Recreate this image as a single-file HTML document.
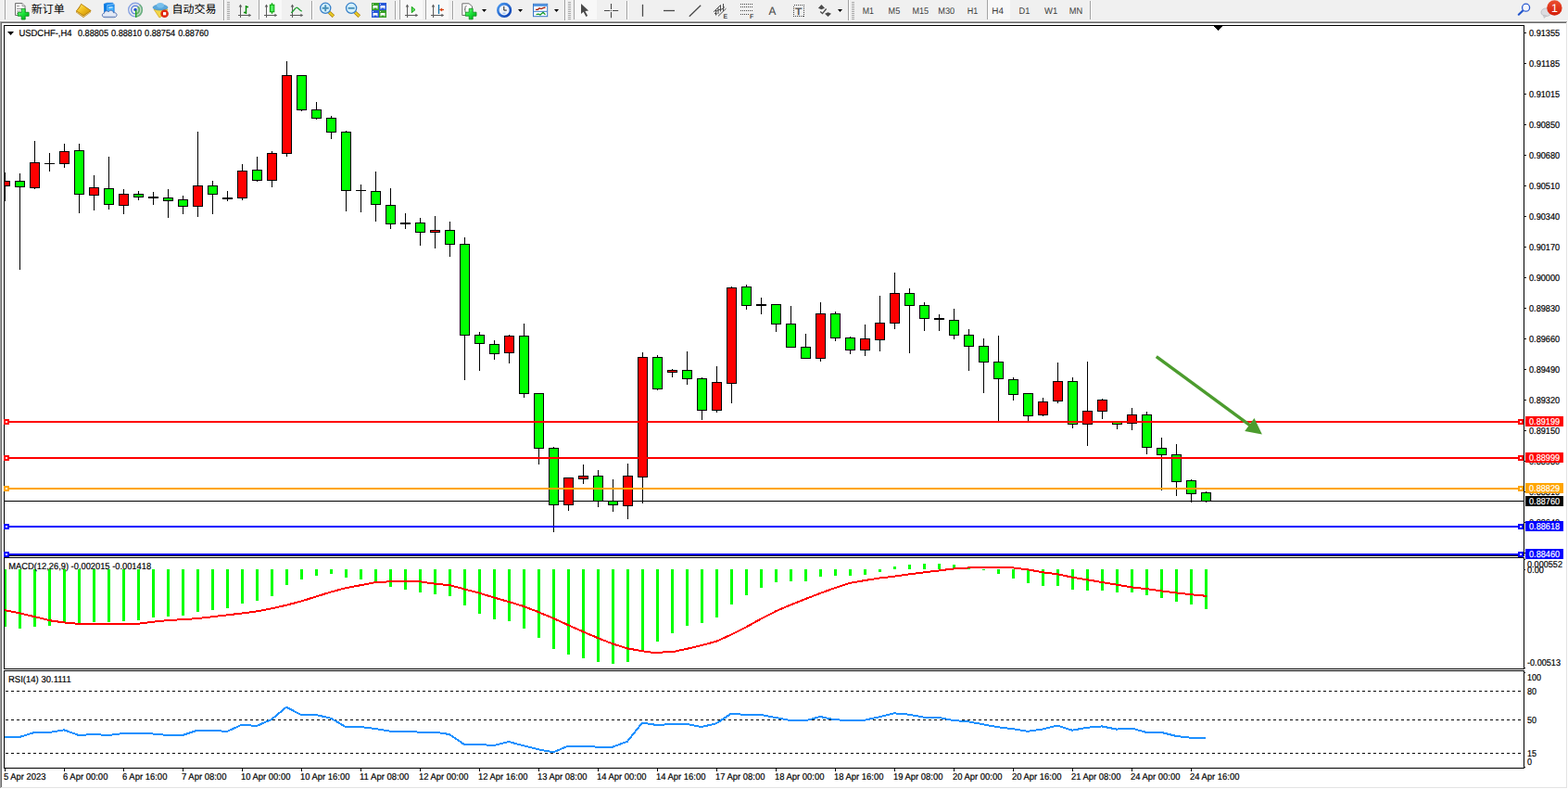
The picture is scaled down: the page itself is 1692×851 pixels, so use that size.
<!DOCTYPE html>
<html><head><meta charset="utf-8"><title>USDCHF H4</title>
<style>
html,body{margin:0;padding:0;}
body{width:1692px;height:851px;overflow:hidden;background:#f0f0f0;position:relative;font-family:"Liberation Sans",sans-serif;}
svg text{font-family:"Liberation Sans",sans-serif;}
</style></head><body>
<svg width="1692" height="851" viewBox="0 0 1692 851" shape-rendering="crispEdges" style="position:absolute;left:0;top:0"><rect x="0" y="22" width="1692" height="1" fill="#f7f7f7"/>
<rect x="0" y="23" width="1690" height="828" fill="#fff"/>
<rect x="0" y="23" width="1691" height="1" fill="#a0a0a0"/>
<rect x="0" y="23" width="1" height="827" fill="#a0a0a0"/>
<rect x="1" y="24" width="1689" height="1" fill="#696969"/>
<rect x="1" y="24" width="1" height="825" fill="#696969"/>
<rect x="1690" y="24" width="1" height="826" fill="#e3e3e3"/>
<rect x="1" y="849" width="1690" height="1" fill="#e3e3e3"/>
<rect x="1691" y="23" width="1" height="828" fill="#fff"/>
<rect x="0" y="850" width="1692" height="1" fill="#fff"/>
<rect x="4" y="27" width="1" height="573" fill="#000"/>
<rect x="1644" y="27" width="1" height="573" fill="#000"/>
<rect x="4" y="601" width="1" height="121" fill="#000"/>
<rect x="1644" y="601" width="1" height="121" fill="#000"/>
<rect x="4" y="723" width="1" height="106" fill="#000"/>
<rect x="1644" y="723" width="1" height="106" fill="#000"/>
<rect x="1645" y="603" width="1" height="1" fill="#000"/>
<rect x="1645" y="614" width="1" height="1" fill="#000"/>
<rect x="1645" y="720" width="1" height="1" fill="#000"/>
<rect x="1645" y="725" width="1" height="1" fill="#000"/>
<rect x="1645" y="827" width="1" height="1" fill="#000"/>
<rect x="4" y="27" width="1641" height="1" fill="#000"/>
<rect x="4" y="599" width="1641" height="1" fill="#000"/>
<rect x="4" y="601" width="1641" height="1" fill="#000"/>
<rect x="4" y="721" width="1641" height="1" fill="#000"/>
<rect x="4" y="723" width="1641" height="1" fill="#000"/>
<rect x="4" y="828" width="1641" height="1" fill="#000"/>
<rect x="5" y="540" width="1639" height="1" fill="#000"/>
<rect x="5" y="186" width="1" height="31" fill="#000"/>
<rect x="0" y="195" width="11" height="6" fill="#000"/>
<rect x="1" y="196" width="9" height="4" fill="#ff0000"/>
<rect x="21" y="187" width="1" height="104" fill="#000"/>
<rect x="16" y="195" width="11" height="7" fill="#000"/>
<rect x="17" y="196" width="9" height="5" fill="#00ff00"/>
<rect x="37" y="152" width="1" height="52" fill="#000"/>
<rect x="32" y="175" width="11" height="28" fill="#000"/>
<rect x="33" y="176" width="9" height="26" fill="#ff0000"/>
<rect x="53" y="165" width="1" height="20" fill="#000"/>
<rect x="48" y="176" width="11" height="1" fill="#000"/>
<rect x="69" y="155" width="1" height="26" fill="#000"/>
<rect x="64" y="163" width="11" height="14" fill="#000"/>
<rect x="65" y="164" width="9" height="12" fill="#ff0000"/>
<rect x="85" y="155" width="1" height="75" fill="#000"/>
<rect x="80" y="162" width="11" height="48" fill="#000"/>
<rect x="81" y="163" width="9" height="46" fill="#00ff00"/>
<rect x="101" y="189" width="1" height="38" fill="#000"/>
<rect x="96" y="202" width="11" height="9" fill="#000"/>
<rect x="97" y="203" width="9" height="7" fill="#ff0000"/>
<rect x="117" y="169" width="1" height="57" fill="#000"/>
<rect x="112" y="203" width="11" height="18" fill="#000"/>
<rect x="113" y="204" width="9" height="16" fill="#00ff00"/>
<rect x="133" y="204" width="1" height="27" fill="#000"/>
<rect x="128" y="209" width="11" height="13" fill="#000"/>
<rect x="129" y="210" width="9" height="11" fill="#ff0000"/>
<rect x="149" y="206" width="1" height="10" fill="#000"/>
<rect x="144" y="209" width="11" height="4" fill="#000"/>
<rect x="145" y="210" width="9" height="2" fill="#00ff00"/>
<rect x="165" y="207" width="1" height="14" fill="#000"/>
<rect x="160" y="212" width="11" height="2" fill="#000"/>
<rect x="181" y="204" width="1" height="31" fill="#000"/>
<rect x="176" y="213" width="11" height="4" fill="#000"/>
<rect x="177" y="214" width="9" height="2" fill="#00ff00"/>
<rect x="197" y="211" width="1" height="20" fill="#000"/>
<rect x="192" y="215" width="11" height="8" fill="#000"/>
<rect x="193" y="216" width="9" height="6" fill="#00ff00"/>
<rect x="213" y="142" width="1" height="92" fill="#000"/>
<rect x="208" y="200" width="11" height="23" fill="#000"/>
<rect x="209" y="201" width="9" height="21" fill="#ff0000"/>
<rect x="229" y="195" width="1" height="36" fill="#000"/>
<rect x="224" y="200" width="11" height="10" fill="#000"/>
<rect x="225" y="201" width="9" height="8" fill="#00ff00"/>
<rect x="245" y="206" width="1" height="11" fill="#000"/>
<rect x="240" y="213" width="11" height="2" fill="#000"/>
<rect x="261" y="177" width="1" height="39" fill="#000"/>
<rect x="256" y="184" width="11" height="30" fill="#000"/>
<rect x="257" y="185" width="9" height="28" fill="#ff0000"/>
<rect x="277" y="169" width="1" height="27" fill="#000"/>
<rect x="272" y="183" width="11" height="12" fill="#000"/>
<rect x="273" y="184" width="9" height="10" fill="#00ff00"/>
<rect x="293" y="163" width="1" height="39" fill="#000"/>
<rect x="288" y="165" width="11" height="30" fill="#000"/>
<rect x="289" y="166" width="9" height="28" fill="#ff0000"/>
<rect x="309" y="66" width="1" height="103" fill="#000"/>
<rect x="304" y="81" width="11" height="85" fill="#000"/>
<rect x="305" y="82" width="9" height="83" fill="#ff0000"/>
<rect x="325" y="81" width="1" height="39" fill="#000"/>
<rect x="320" y="81" width="11" height="38" fill="#000"/>
<rect x="321" y="82" width="9" height="36" fill="#00ff00"/>
<rect x="341" y="110" width="1" height="19" fill="#000"/>
<rect x="336" y="118" width="11" height="10" fill="#000"/>
<rect x="337" y="119" width="9" height="8" fill="#00ff00"/>
<rect x="357" y="125" width="1" height="25" fill="#000"/>
<rect x="352" y="127" width="11" height="16" fill="#000"/>
<rect x="353" y="128" width="9" height="14" fill="#00ff00"/>
<rect x="373" y="141" width="1" height="87" fill="#000"/>
<rect x="368" y="142" width="11" height="64" fill="#000"/>
<rect x="369" y="143" width="9" height="62" fill="#00ff00"/>
<rect x="389" y="199" width="1" height="30" fill="#000"/>
<rect x="384" y="205" width="11" height="1" fill="#000"/>
<rect x="405" y="185" width="1" height="54" fill="#000"/>
<rect x="400" y="206" width="11" height="15" fill="#000"/>
<rect x="401" y="207" width="9" height="13" fill="#00ff00"/>
<rect x="421" y="203" width="1" height="44" fill="#000"/>
<rect x="416" y="221" width="11" height="21" fill="#000"/>
<rect x="417" y="222" width="9" height="19" fill="#00ff00"/>
<rect x="437" y="230" width="1" height="17" fill="#000"/>
<rect x="432" y="240" width="11" height="2" fill="#000"/>
<rect x="453" y="235" width="1" height="30" fill="#000"/>
<rect x="448" y="240" width="11" height="11" fill="#000"/>
<rect x="449" y="241" width="9" height="9" fill="#00ff00"/>
<rect x="469" y="233" width="1" height="35" fill="#000"/>
<rect x="464" y="248" width="11" height="3" fill="#000"/>
<rect x="465" y="249" width="9" height="1" fill="#ff0000"/>
<rect x="485" y="239" width="1" height="38" fill="#000"/>
<rect x="480" y="248" width="11" height="16" fill="#000"/>
<rect x="481" y="249" width="9" height="14" fill="#00ff00"/>
<rect x="501" y="256" width="1" height="154" fill="#000"/>
<rect x="496" y="263" width="11" height="99" fill="#000"/>
<rect x="497" y="264" width="9" height="97" fill="#00ff00"/>
<rect x="517" y="358" width="1" height="42" fill="#000"/>
<rect x="512" y="361" width="11" height="10" fill="#000"/>
<rect x="513" y="362" width="9" height="8" fill="#00ff00"/>
<rect x="533" y="367" width="1" height="21" fill="#000"/>
<rect x="528" y="371" width="11" height="11" fill="#000"/>
<rect x="529" y="372" width="9" height="9" fill="#00ff00"/>
<rect x="549" y="361" width="1" height="31" fill="#000"/>
<rect x="544" y="362" width="11" height="19" fill="#000"/>
<rect x="545" y="363" width="9" height="17" fill="#ff0000"/>
<rect x="565" y="349" width="1" height="80" fill="#000"/>
<rect x="560" y="362" width="11" height="63" fill="#000"/>
<rect x="561" y="363" width="9" height="61" fill="#00ff00"/>
<rect x="581" y="425" width="1" height="76" fill="#000"/>
<rect x="576" y="424" width="11" height="60" fill="#000"/>
<rect x="577" y="425" width="9" height="58" fill="#00ff00"/>
<rect x="597" y="482" width="1" height="92" fill="#000"/>
<rect x="592" y="483" width="11" height="62" fill="#000"/>
<rect x="593" y="484" width="9" height="60" fill="#00ff00"/>
<rect x="613" y="516" width="1" height="35" fill="#000"/>
<rect x="608" y="515" width="11" height="30" fill="#000"/>
<rect x="609" y="516" width="9" height="28" fill="#ff0000"/>
<rect x="629" y="501" width="1" height="21" fill="#000"/>
<rect x="624" y="513" width="11" height="4" fill="#000"/>
<rect x="625" y="514" width="9" height="2" fill="#ff0000"/>
<rect x="645" y="507" width="1" height="40" fill="#000"/>
<rect x="640" y="513" width="11" height="28" fill="#000"/>
<rect x="641" y="514" width="9" height="26" fill="#00ff00"/>
<rect x="661" y="517" width="1" height="35" fill="#000"/>
<rect x="656" y="540" width="11" height="5" fill="#000"/>
<rect x="657" y="541" width="9" height="3" fill="#00ff00"/>
<rect x="677" y="500" width="1" height="60" fill="#000"/>
<rect x="672" y="513" width="11" height="33" fill="#000"/>
<rect x="673" y="514" width="9" height="31" fill="#ff0000"/>
<rect x="693" y="380" width="1" height="163" fill="#000"/>
<rect x="688" y="385" width="11" height="130" fill="#000"/>
<rect x="689" y="386" width="9" height="128" fill="#ff0000"/>
<rect x="709" y="383" width="1" height="38" fill="#000"/>
<rect x="704" y="385" width="11" height="35" fill="#000"/>
<rect x="705" y="386" width="9" height="33" fill="#00ff00"/>
<rect x="725" y="398" width="1" height="9" fill="#000"/>
<rect x="720" y="399" width="11" height="3" fill="#000"/>
<rect x="721" y="400" width="9" height="1" fill="#ff0000"/>
<rect x="741" y="379" width="1" height="36" fill="#000"/>
<rect x="736" y="399" width="11" height="10" fill="#000"/>
<rect x="737" y="400" width="9" height="8" fill="#00ff00"/>
<rect x="757" y="407" width="1" height="46" fill="#000"/>
<rect x="752" y="408" width="11" height="35" fill="#000"/>
<rect x="753" y="409" width="9" height="33" fill="#00ff00"/>
<rect x="773" y="395" width="1" height="50" fill="#000"/>
<rect x="768" y="412" width="11" height="31" fill="#000"/>
<rect x="769" y="413" width="9" height="29" fill="#ff0000"/>
<rect x="789" y="309" width="1" height="126" fill="#000"/>
<rect x="784" y="310" width="11" height="104" fill="#000"/>
<rect x="785" y="311" width="9" height="102" fill="#ff0000"/>
<rect x="805" y="307" width="1" height="27" fill="#000"/>
<rect x="800" y="309" width="11" height="21" fill="#000"/>
<rect x="801" y="310" width="9" height="19" fill="#00ff00"/>
<rect x="821" y="321" width="1" height="18" fill="#000"/>
<rect x="816" y="328" width="11" height="2" fill="#000"/>
<rect x="837" y="328" width="1" height="30" fill="#000"/>
<rect x="832" y="328" width="11" height="22" fill="#000"/>
<rect x="833" y="329" width="9" height="20" fill="#00ff00"/>
<rect x="853" y="330" width="1" height="44" fill="#000"/>
<rect x="848" y="349" width="11" height="26" fill="#000"/>
<rect x="849" y="350" width="9" height="24" fill="#00ff00"/>
<rect x="869" y="360" width="1" height="27" fill="#000"/>
<rect x="864" y="374" width="11" height="13" fill="#000"/>
<rect x="865" y="375" width="9" height="11" fill="#00ff00"/>
<rect x="885" y="326" width="1" height="64" fill="#000"/>
<rect x="880" y="338" width="11" height="49" fill="#000"/>
<rect x="881" y="339" width="9" height="47" fill="#ff0000"/>
<rect x="901" y="336" width="1" height="32" fill="#000"/>
<rect x="896" y="338" width="11" height="27" fill="#000"/>
<rect x="897" y="339" width="9" height="25" fill="#00ff00"/>
<rect x="917" y="363" width="1" height="19" fill="#000"/>
<rect x="912" y="364" width="11" height="14" fill="#000"/>
<rect x="913" y="365" width="9" height="12" fill="#00ff00"/>
<rect x="933" y="350" width="1" height="34" fill="#000"/>
<rect x="928" y="365" width="11" height="13" fill="#000"/>
<rect x="929" y="366" width="9" height="11" fill="#ff0000"/>
<rect x="949" y="319" width="1" height="60" fill="#000"/>
<rect x="944" y="348" width="11" height="19" fill="#000"/>
<rect x="945" y="349" width="9" height="17" fill="#ff0000"/>
<rect x="965" y="294" width="1" height="61" fill="#000"/>
<rect x="960" y="316" width="11" height="33" fill="#000"/>
<rect x="961" y="317" width="9" height="31" fill="#ff0000"/>
<rect x="981" y="311" width="1" height="70" fill="#000"/>
<rect x="976" y="316" width="11" height="14" fill="#000"/>
<rect x="977" y="317" width="9" height="12" fill="#00ff00"/>
<rect x="997" y="326" width="1" height="31" fill="#000"/>
<rect x="992" y="329" width="11" height="15" fill="#000"/>
<rect x="993" y="330" width="9" height="13" fill="#00ff00"/>
<rect x="1013" y="339" width="1" height="18" fill="#000"/>
<rect x="1008" y="343" width="11" height="2" fill="#000"/>
<rect x="1029" y="333" width="1" height="33" fill="#000"/>
<rect x="1024" y="345" width="11" height="17" fill="#000"/>
<rect x="1025" y="346" width="9" height="15" fill="#00ff00"/>
<rect x="1045" y="355" width="1" height="45" fill="#000"/>
<rect x="1040" y="361" width="11" height="13" fill="#000"/>
<rect x="1041" y="362" width="9" height="11" fill="#00ff00"/>
<rect x="1061" y="365" width="1" height="59" fill="#000"/>
<rect x="1056" y="373" width="11" height="18" fill="#000"/>
<rect x="1057" y="374" width="9" height="16" fill="#00ff00"/>
<rect x="1077" y="362" width="1" height="92" fill="#000"/>
<rect x="1072" y="390" width="11" height="19" fill="#000"/>
<rect x="1073" y="391" width="9" height="17" fill="#00ff00"/>
<rect x="1093" y="407" width="1" height="25" fill="#000"/>
<rect x="1088" y="409" width="11" height="17" fill="#000"/>
<rect x="1089" y="410" width="9" height="15" fill="#00ff00"/>
<rect x="1109" y="424" width="1" height="30" fill="#000"/>
<rect x="1104" y="424" width="11" height="25" fill="#000"/>
<rect x="1105" y="425" width="9" height="23" fill="#00ff00"/>
<rect x="1125" y="429" width="1" height="20" fill="#000"/>
<rect x="1120" y="433" width="11" height="15" fill="#000"/>
<rect x="1121" y="434" width="9" height="13" fill="#ff0000"/>
<rect x="1141" y="391" width="1" height="44" fill="#000"/>
<rect x="1136" y="411" width="11" height="22" fill="#000"/>
<rect x="1137" y="412" width="9" height="20" fill="#ff0000"/>
<rect x="1157" y="407" width="1" height="55" fill="#000"/>
<rect x="1152" y="411" width="11" height="47" fill="#000"/>
<rect x="1153" y="412" width="9" height="45" fill="#00ff00"/>
<rect x="1173" y="390" width="1" height="91" fill="#000"/>
<rect x="1168" y="443" width="11" height="15" fill="#000"/>
<rect x="1169" y="444" width="9" height="13" fill="#ff0000"/>
<rect x="1189" y="430" width="1" height="22" fill="#000"/>
<rect x="1184" y="431" width="11" height="13" fill="#000"/>
<rect x="1185" y="432" width="9" height="11" fill="#ff0000"/>
<rect x="1205" y="454" width="1" height="9" fill="#000"/>
<rect x="1200" y="454" width="11" height="4" fill="#000"/>
<rect x="1201" y="455" width="9" height="2" fill="#00ff00"/>
<rect x="1221" y="440" width="1" height="24" fill="#000"/>
<rect x="1216" y="447" width="11" height="10" fill="#000"/>
<rect x="1217" y="448" width="9" height="8" fill="#ff0000"/>
<rect x="1237" y="444" width="1" height="46" fill="#000"/>
<rect x="1232" y="447" width="11" height="36" fill="#000"/>
<rect x="1233" y="448" width="9" height="34" fill="#00ff00"/>
<rect x="1253" y="472" width="1" height="57" fill="#000"/>
<rect x="1248" y="483" width="11" height="8" fill="#000"/>
<rect x="1249" y="484" width="9" height="6" fill="#00ff00"/>
<rect x="1269" y="479" width="1" height="56" fill="#000"/>
<rect x="1264" y="490" width="11" height="30" fill="#000"/>
<rect x="1265" y="491" width="9" height="28" fill="#00ff00"/>
<rect x="1285" y="517" width="1" height="25" fill="#000"/>
<rect x="1280" y="518" width="11" height="15" fill="#000"/>
<rect x="1281" y="519" width="9" height="13" fill="#00ff00"/>
<rect x="1301" y="530" width="1" height="12" fill="#000"/>
<rect x="1296" y="531" width="11" height="10" fill="#000"/>
<rect x="1297" y="532" width="9" height="8" fill="#00ff00"/>
<rect x="2" y="28" width="2" height="571" fill="#fff"/>
<rect x="0" y="28" width="1" height="571" fill="#a0a0a0"/>
<rect x="1" y="28" width="1" height="571" fill="#696969"/>
<rect x="4" y="27" width="1" height="573" fill="#000"/>
<rect x="1645" y="35" width="2" height="1" fill="#000"/>
<text x="1650" y="39" font-size="10" fill="#000" stroke="#000" stroke-width=".2" text-rendering="geometricPrecision" font-family="Liberation Sans, sans-serif" text-anchor="start" font-weight="normal" textLength="33.2" lengthAdjust="spacingAndGlyphs">0.91355</text>
<rect x="1645" y="68" width="2" height="1" fill="#000"/>
<text x="1650" y="72" font-size="10" fill="#000" stroke="#000" stroke-width=".2" text-rendering="geometricPrecision" font-family="Liberation Sans, sans-serif" text-anchor="start" font-weight="normal" textLength="33.2" lengthAdjust="spacingAndGlyphs">0.91185</text>
<rect x="1645" y="101" width="2" height="1" fill="#000"/>
<text x="1650" y="105" font-size="10" fill="#000" stroke="#000" stroke-width=".2" text-rendering="geometricPrecision" font-family="Liberation Sans, sans-serif" text-anchor="start" font-weight="normal" textLength="33.2" lengthAdjust="spacingAndGlyphs">0.91015</text>
<rect x="1645" y="134" width="2" height="1" fill="#000"/>
<text x="1650" y="138" font-size="10" fill="#000" stroke="#000" stroke-width=".2" text-rendering="geometricPrecision" font-family="Liberation Sans, sans-serif" text-anchor="start" font-weight="normal" textLength="33.2" lengthAdjust="spacingAndGlyphs">0.90850</text>
<rect x="1645" y="167" width="2" height="1" fill="#000"/>
<text x="1650" y="171" font-size="10" fill="#000" stroke="#000" stroke-width=".2" text-rendering="geometricPrecision" font-family="Liberation Sans, sans-serif" text-anchor="start" font-weight="normal" textLength="33.2" lengthAdjust="spacingAndGlyphs">0.90680</text>
<rect x="1645" y="200" width="2" height="1" fill="#000"/>
<text x="1650" y="204" font-size="10" fill="#000" stroke="#000" stroke-width=".2" text-rendering="geometricPrecision" font-family="Liberation Sans, sans-serif" text-anchor="start" font-weight="normal" textLength="33.2" lengthAdjust="spacingAndGlyphs">0.90510</text>
<rect x="1645" y="233" width="2" height="1" fill="#000"/>
<text x="1650" y="237" font-size="10" fill="#000" stroke="#000" stroke-width=".2" text-rendering="geometricPrecision" font-family="Liberation Sans, sans-serif" text-anchor="start" font-weight="normal" textLength="33.2" lengthAdjust="spacingAndGlyphs">0.90340</text>
<rect x="1645" y="266" width="2" height="1" fill="#000"/>
<text x="1650" y="270" font-size="10" fill="#000" stroke="#000" stroke-width=".2" text-rendering="geometricPrecision" font-family="Liberation Sans, sans-serif" text-anchor="start" font-weight="normal" textLength="33.2" lengthAdjust="spacingAndGlyphs">0.90170</text>
<rect x="1645" y="299" width="2" height="1" fill="#000"/>
<text x="1650" y="303" font-size="10" fill="#000" stroke="#000" stroke-width=".2" text-rendering="geometricPrecision" font-family="Liberation Sans, sans-serif" text-anchor="start" font-weight="normal" textLength="33.2" lengthAdjust="spacingAndGlyphs">0.90000</text>
<rect x="1645" y="332" width="2" height="1" fill="#000"/>
<text x="1650" y="336" font-size="10" fill="#000" stroke="#000" stroke-width=".2" text-rendering="geometricPrecision" font-family="Liberation Sans, sans-serif" text-anchor="start" font-weight="normal" textLength="33.2" lengthAdjust="spacingAndGlyphs">0.89830</text>
<rect x="1645" y="365" width="2" height="1" fill="#000"/>
<text x="1650" y="369" font-size="10" fill="#000" stroke="#000" stroke-width=".2" text-rendering="geometricPrecision" font-family="Liberation Sans, sans-serif" text-anchor="start" font-weight="normal" textLength="33.2" lengthAdjust="spacingAndGlyphs">0.89660</text>
<rect x="1645" y="398" width="2" height="1" fill="#000"/>
<text x="1650" y="402" font-size="10" fill="#000" stroke="#000" stroke-width=".2" text-rendering="geometricPrecision" font-family="Liberation Sans, sans-serif" text-anchor="start" font-weight="normal" textLength="33.2" lengthAdjust="spacingAndGlyphs">0.89490</text>
<rect x="1645" y="431" width="2" height="1" fill="#000"/>
<text x="1650" y="435" font-size="10" fill="#000" stroke="#000" stroke-width=".2" text-rendering="geometricPrecision" font-family="Liberation Sans, sans-serif" text-anchor="start" font-weight="normal" textLength="33.2" lengthAdjust="spacingAndGlyphs">0.89320</text>
<rect x="1645" y="464" width="2" height="1" fill="#000"/>
<text x="1650" y="468" font-size="10" fill="#000" stroke="#000" stroke-width=".2" text-rendering="geometricPrecision" font-family="Liberation Sans, sans-serif" text-anchor="start" font-weight="normal" textLength="33.2" lengthAdjust="spacingAndGlyphs">0.89150</text>
<rect x="1645" y="497" width="2" height="1" fill="#000"/>
<text x="1650" y="501" font-size="10" fill="#000" stroke="#000" stroke-width=".2" text-rendering="geometricPrecision" font-family="Liberation Sans, sans-serif" text-anchor="start" font-weight="normal" textLength="33.2" lengthAdjust="spacingAndGlyphs">0.88980</text>
<rect x="1645" y="530" width="2" height="1" fill="#000"/>
<text x="1650" y="534" font-size="10" fill="#000" stroke="#000" stroke-width=".2" text-rendering="geometricPrecision" font-family="Liberation Sans, sans-serif" text-anchor="start" font-weight="normal" textLength="33.2" lengthAdjust="spacingAndGlyphs">0.88810</text>
<rect x="1645" y="563" width="2" height="1" fill="#000"/>
<text x="1650" y="567" font-size="10" fill="#000" stroke="#000" stroke-width=".2" text-rendering="geometricPrecision" font-family="Liberation Sans, sans-serif" text-anchor="start" font-weight="normal" textLength="33.2" lengthAdjust="spacingAndGlyphs">0.88640</text>
<rect x="1645" y="596" width="2" height="1" fill="#000"/>
<text x="1650" y="600" font-size="10" fill="#000" stroke="#000" stroke-width=".2" text-rendering="geometricPrecision" font-family="Liberation Sans, sans-serif" text-anchor="start" font-weight="normal" textLength="33.2" lengthAdjust="spacingAndGlyphs">0.88470</text>
<rect x="5" y="454" width="1639" height="2" fill="#ff0000"/>
<rect x="4" y="452" width="6" height="6" fill="#ff0000"/>
<rect x="6" y="454" width="2" height="2" fill="#fff"/>
<rect x="1638" y="452" width="6" height="6" fill="#ff0000"/>
<rect x="1640" y="454" width="2" height="2" fill="#fff"/>
<rect x="1646" y="449" width="41" height="11" fill="#ff0000"/>
<text x="1650" y="458" font-size="10" fill="#fff" stroke="#fff" stroke-width=".2" text-rendering="geometricPrecision" font-family="Liberation Sans, sans-serif" text-anchor="start" font-weight="normal" textLength="33.2" lengthAdjust="spacingAndGlyphs">0.89199</text>
<rect x="5" y="493" width="1639" height="2" fill="#ff0000"/>
<rect x="4" y="491" width="6" height="6" fill="#ff0000"/>
<rect x="6" y="493" width="2" height="2" fill="#fff"/>
<rect x="1638" y="491" width="6" height="6" fill="#ff0000"/>
<rect x="1640" y="493" width="2" height="2" fill="#fff"/>
<rect x="1646" y="488" width="41" height="11" fill="#ff0000"/>
<text x="1650" y="497" font-size="10" fill="#fff" stroke="#fff" stroke-width=".2" text-rendering="geometricPrecision" font-family="Liberation Sans, sans-serif" text-anchor="start" font-weight="normal" textLength="33.2" lengthAdjust="spacingAndGlyphs">0.88999</text>
<rect x="5" y="526" width="1639" height="2" fill="#ffa500"/>
<rect x="4" y="524" width="6" height="6" fill="#ffa500"/>
<rect x="6" y="526" width="2" height="2" fill="#fff"/>
<rect x="1638" y="524" width="6" height="6" fill="#ffa500"/>
<rect x="1640" y="526" width="2" height="2" fill="#fff"/>
<rect x="1646" y="521" width="41" height="11" fill="#ffa500"/>
<text x="1650" y="530" font-size="10" fill="#fff" stroke="#fff" stroke-width=".2" text-rendering="geometricPrecision" font-family="Liberation Sans, sans-serif" text-anchor="start" font-weight="normal" textLength="33.2" lengthAdjust="spacingAndGlyphs">0.88829</text>
<rect x="5" y="567" width="1639" height="2" fill="#0000ff"/>
<rect x="4" y="565" width="6" height="6" fill="#0000ff"/>
<rect x="6" y="567" width="2" height="2" fill="#fff"/>
<rect x="1638" y="565" width="6" height="6" fill="#0000ff"/>
<rect x="1640" y="567" width="2" height="2" fill="#fff"/>
<rect x="1646" y="562" width="41" height="11" fill="#0000ff"/>
<text x="1650" y="571" font-size="10" fill="#fff" stroke="#fff" stroke-width=".2" text-rendering="geometricPrecision" font-family="Liberation Sans, sans-serif" text-anchor="start" font-weight="normal" textLength="33.2" lengthAdjust="spacingAndGlyphs">0.88618</text>
<rect x="5" y="597" width="1639" height="2" fill="#0000ff"/>
<rect x="4" y="595" width="6" height="6" fill="#0000ff"/>
<rect x="6" y="597" width="2" height="2" fill="#fff"/>
<rect x="1638" y="595" width="6" height="6" fill="#0000ff"/>
<rect x="1640" y="597" width="2" height="2" fill="#fff"/>
<rect x="1646" y="592" width="41" height="11" fill="#0000ff"/>
<text x="1650" y="601" font-size="10" fill="#fff" stroke="#fff" stroke-width=".2" text-rendering="geometricPrecision" font-family="Liberation Sans, sans-serif" text-anchor="start" font-weight="normal" textLength="33.2" lengthAdjust="spacingAndGlyphs">0.88460</text>
<rect x="1646" y="535" width="41" height="11" fill="#000"/>
<text x="1650" y="544" font-size="10" fill="#fff" stroke="#fff" stroke-width=".2" text-rendering="geometricPrecision" font-family="Liberation Sans, sans-serif" text-anchor="start" font-weight="normal" textLength="33.2" lengthAdjust="spacingAndGlyphs">0.88760</text>
<g shape-rendering="auto"><line x1="1247.8" y1="384.7" x2="1350" y2="459.600" stroke="#4c9c2e" stroke-width="3.400"/><polygon points="1361.900,468.400 1353.500,450.900 1343.200,464.900" fill="#4c9c2e"/></g>
<polygon points="8,34 15,34 11.5,38" fill="#000" shape-rendering="auto"/>
<text x="20.5" y="39" font-size="10" fill="#000" stroke="#000" stroke-width=".2" text-rendering="geometricPrecision" font-family="Liberation Sans, sans-serif" text-anchor="start" font-weight="normal" textLength="57" lengthAdjust="spacingAndGlyphs">USDCHF-,H4</text>
<text x="84.0" y="39" font-size="10" fill="#000" stroke="#000" stroke-width=".2" text-rendering="geometricPrecision" font-family="Liberation Sans, sans-serif" text-anchor="start" font-weight="normal" textLength="33" lengthAdjust="spacingAndGlyphs">0.88805</text>
<text x="120.05" y="39" font-size="10" fill="#000" stroke="#000" stroke-width=".2" text-rendering="geometricPrecision" font-family="Liberation Sans, sans-serif" text-anchor="start" font-weight="normal" textLength="33" lengthAdjust="spacingAndGlyphs">0.88810</text>
<text x="156.1" y="39" font-size="10" fill="#000" stroke="#000" stroke-width=".2" text-rendering="geometricPrecision" font-family="Liberation Sans, sans-serif" text-anchor="start" font-weight="normal" textLength="33" lengthAdjust="spacingAndGlyphs">0.88754</text>
<text x="192.14999999999998" y="39" font-size="10" fill="#000" stroke="#000" stroke-width=".2" text-rendering="geometricPrecision" font-family="Liberation Sans, sans-serif" text-anchor="start" font-weight="normal" textLength="33" lengthAdjust="spacingAndGlyphs">0.88760</text>
<rect x="4" y="614" width="3" height="62" fill="#00ff00"/>
<rect x="20" y="614" width="3" height="64" fill="#00ff00"/>
<rect x="36" y="614" width="3" height="62" fill="#00ff00"/>
<rect x="52" y="614" width="3" height="61" fill="#00ff00"/>
<rect x="68" y="614" width="3" height="57" fill="#00ff00"/>
<rect x="84" y="614" width="3" height="58" fill="#00ff00"/>
<rect x="100" y="614" width="3" height="57" fill="#00ff00"/>
<rect x="116" y="614" width="3" height="57" fill="#00ff00"/>
<rect x="132" y="614" width="3" height="56" fill="#00ff00"/>
<rect x="148" y="614" width="3" height="55" fill="#00ff00"/>
<rect x="164" y="614" width="3" height="52" fill="#00ff00"/>
<rect x="180" y="614" width="3" height="51" fill="#00ff00"/>
<rect x="196" y="614" width="3" height="50" fill="#00ff00"/>
<rect x="212" y="614" width="3" height="46" fill="#00ff00"/>
<rect x="228" y="614" width="3" height="44" fill="#00ff00"/>
<rect x="244" y="614" width="3" height="42" fill="#00ff00"/>
<rect x="260" y="614" width="3" height="37" fill="#00ff00"/>
<rect x="276" y="614" width="3" height="34" fill="#00ff00"/>
<rect x="292" y="614" width="3" height="29" fill="#00ff00"/>
<rect x="308" y="614" width="3" height="17" fill="#00ff00"/>
<rect x="324" y="614" width="3" height="11" fill="#00ff00"/>
<rect x="340" y="614" width="3" height="7" fill="#00ff00"/>
<rect x="356" y="614" width="3" height="5" fill="#00ff00"/>
<rect x="372" y="614" width="3" height="9" fill="#00ff00"/>
<rect x="388" y="614" width="3" height="11" fill="#00ff00"/>
<rect x="404" y="614" width="3" height="14" fill="#00ff00"/>
<rect x="420" y="614" width="3" height="19" fill="#00ff00"/>
<rect x="436" y="614" width="3" height="22" fill="#00ff00"/>
<rect x="452" y="614" width="3" height="25" fill="#00ff00"/>
<rect x="468" y="614" width="3" height="27" fill="#00ff00"/>
<rect x="484" y="614" width="3" height="29" fill="#00ff00"/>
<rect x="500" y="614" width="3" height="39" fill="#00ff00"/>
<rect x="516" y="614" width="3" height="48" fill="#00ff00"/>
<rect x="532" y="614" width="3" height="54" fill="#00ff00"/>
<rect x="548" y="614" width="3" height="56" fill="#00ff00"/>
<rect x="564" y="614" width="3" height="64" fill="#00ff00"/>
<rect x="580" y="614" width="3" height="74" fill="#00ff00"/>
<rect x="596" y="614" width="3" height="86" fill="#00ff00"/>
<rect x="612" y="614" width="3" height="92" fill="#00ff00"/>
<rect x="628" y="614" width="3" height="96" fill="#00ff00"/>
<rect x="644" y="614" width="3" height="100" fill="#00ff00"/>
<rect x="660" y="614" width="3" height="102" fill="#00ff00"/>
<rect x="676" y="614" width="3" height="100" fill="#00ff00"/>
<rect x="692" y="614" width="3" height="88" fill="#00ff00"/>
<rect x="708" y="614" width="3" height="78" fill="#00ff00"/>
<rect x="724" y="614" width="3" height="69" fill="#00ff00"/>
<rect x="740" y="614" width="3" height="61" fill="#00ff00"/>
<rect x="756" y="614" width="3" height="58" fill="#00ff00"/>
<rect x="772" y="614" width="3" height="52" fill="#00ff00"/>
<rect x="788" y="614" width="3" height="38" fill="#00ff00"/>
<rect x="804" y="614" width="3" height="28" fill="#00ff00"/>
<rect x="820" y="614" width="3" height="20" fill="#00ff00"/>
<rect x="836" y="614" width="3" height="14" fill="#00ff00"/>
<rect x="852" y="614" width="3" height="13" fill="#00ff00"/>
<rect x="868" y="614" width="3" height="13" fill="#00ff00"/>
<rect x="884" y="614" width="3" height="8" fill="#00ff00"/>
<rect x="900" y="614" width="3" height="7" fill="#00ff00"/>
<rect x="916" y="614" width="3" height="7" fill="#00ff00"/>
<rect x="932" y="614" width="3" height="6" fill="#00ff00"/>
<rect x="948" y="614" width="3" height="3" fill="#00ff00"/>
<rect x="964" y="611" width="3" height="3" fill="#00ff00"/>
<rect x="980" y="609" width="3" height="5" fill="#00ff00"/>
<rect x="996" y="608" width="3" height="6" fill="#00ff00"/>
<rect x="1012" y="608" width="3" height="6" fill="#00ff00"/>
<rect x="1028" y="609" width="3" height="5" fill="#00ff00"/>
<rect x="1044" y="611" width="3" height="3" fill="#00ff00"/>
<rect x="1060" y="614" width="3" height="1" fill="#00ff00"/>
<rect x="1076" y="614" width="3" height="5" fill="#00ff00"/>
<rect x="1092" y="614" width="3" height="10" fill="#00ff00"/>
<rect x="1108" y="614" width="3" height="15" fill="#00ff00"/>
<rect x="1124" y="614" width="3" height="18" fill="#00ff00"/>
<rect x="1140" y="614" width="3" height="18" fill="#00ff00"/>
<rect x="1156" y="614" width="3" height="22" fill="#00ff00"/>
<rect x="1172" y="614" width="3" height="23" fill="#00ff00"/>
<rect x="1188" y="614" width="3" height="23" fill="#00ff00"/>
<rect x="1204" y="614" width="3" height="25" fill="#00ff00"/>
<rect x="1220" y="614" width="3" height="25" fill="#00ff00"/>
<rect x="1236" y="614" width="3" height="28" fill="#00ff00"/>
<rect x="1252" y="614" width="3" height="31" fill="#00ff00"/>
<rect x="1268" y="614" width="3" height="35" fill="#00ff00"/>
<rect x="1284" y="614" width="3" height="38" fill="#00ff00"/>
<rect x="1300" y="614" width="3" height="43" fill="#00ff00"/>
<polyline points="5.0,658.0 21.6,661.5 37.5,665.2 53.4,669.2 69.5,671.5 85.6,672.9 133.0,672.9 149.0,672.7 165.3,670.7 181.4,669.0 197.3,668.2 213.5,667.0 229.4,665.2 245.5,663.3 261.4,661.5 277.5,659.3 293.4,656.3 309.5,652.6 325.4,648.4 341.3,643.4 357.4,638.4 373.3,634.2 389.2,631.2 405.4,628.0 421.6,627.3 453.4,627.3 469.5,629.8 485.6,631.2 501.3,635.5 517.4,639.7 533.3,644.6 549.2,649.1 565.3,654.1 581.4,660.3 597.3,667.0 613.5,674.4 629.4,681.4 645.5,688.3 661.4,694.5 677.5,699.5 693.4,702.2 701.6,703.5 709.5,703.7 725.4,703.2 741.3,699.8 757.4,696.0 773.3,691.6 789.2,684.5 805.4,676.2 821.6,667.3 837.5,659.1 853.4,652.3 869.5,645.9 885.6,639.7 901.3,634.0 917.4,628.8 933.3,626.0 949.2,623.5 965.3,621.6 981.4,619.3 997.3,617.3 1013.5,615.4 1029.4,613.4 1045.5,612.4 1061.4,611.9 1077.5,611.9 1093.4,612.4 1109.5,614.4 1125.4,617.3 1141.3,619.3 1157.4,622.8 1173.3,625.3 1189.2,628.0 1205.4,630.7 1221.5,633.4 1237.5,635.2 1253.5,637.4 1269.6,639.5 1285.6,641.3 1301.6,642.8" fill="none" stroke="#ff0000" stroke-width="2" shape-rendering="crispEdges" stroke-linejoin="round"/>
<text x="9.3" y="614" font-size="10" fill="#000" stroke="#000" stroke-width=".2" text-rendering="geometricPrecision" font-family="Liberation Sans, sans-serif" text-anchor="start" font-weight="normal" textLength="153.8" lengthAdjust="spacingAndGlyphs">MACD(12,26,9) -0.002015 -0.001418</text>
<text x="1648" y="612" font-size="10" fill="#000" stroke="#000" stroke-width=".2" text-rendering="geometricPrecision" font-family="Liberation Sans, sans-serif" text-anchor="start" font-weight="normal" textLength="38" lengthAdjust="spacingAndGlyphs">0.000552</text>
<text x="1648" y="618" font-size="10" fill="#000" stroke="#000" stroke-width=".2" text-rendering="geometricPrecision" font-family="Liberation Sans, sans-serif" text-anchor="start" font-weight="normal" textLength="18" lengthAdjust="spacingAndGlyphs">0.00</text>
<text x="1648" y="718" font-size="10" fill="#000" stroke="#000" stroke-width=".2" text-rendering="geometricPrecision" font-family="Liberation Sans, sans-serif" text-anchor="start" font-weight="normal" textLength="36" lengthAdjust="spacingAndGlyphs">-0.00513</text>
<line x1="6" y1="745.5" x2="1644" y2="745.5" stroke="#000" stroke-width="1" stroke-dasharray="3,3"/>
<line x1="6" y1="776.5" x2="1644" y2="776.5" stroke="#000" stroke-width="1" stroke-dasharray="3,3"/>
<line x1="6" y1="812.5" x2="1644" y2="812.5" stroke="#000" stroke-width="1" stroke-dasharray="3,3"/>
<polyline points="5,795.0 21,795.0 37,790.0 53,790.0 69,787.3 85,793.0 101,792.0 117,793.0 133,791.0 149,791.0 165,791.5 181,793.0 197,793.0 213,787.7 229,787.7 245,789.0 261,781.7 277,783.0 293,776.0 309,762.7 325,771.0 341,771.0 357,774.7 373,784.0 389,784.0 405,786.0 421,788.7 437,788.7 453,789.7 469,789.7 485,792.0 501,803.0 517,803.0 533,804.0 549,800.0 565,804.3 581,808.3 597,811.3 613,804.7 629,804.7 645,805.7 661,805.7 677,799.7 693,779.7 709,782.0 725,781.0 741,781.0 757,784.0 773,780.3 789,769.7 805,771.0 821,771.0 837,774.0 853,777.0 869,777.3 885,773.0 901,776.3 917,777.0 933,776.7 949,773.3 965,769.3 981,770.7 997,773.7 1013,774.0 1029,777.0 1045,778.3 1061,781.3 1077,784.3 1093,786.2 1109,788.8 1125,786.6 1141,782.6 1157,787.7 1173,784.8 1189,783.4 1205,786.6 1221,785.5 1237,789.9 1253,789.9 1269,793.9 1285,795.7 1301,795.7" fill="none" stroke="#1e90ff" stroke-width="2" shape-rendering="crispEdges" stroke-linejoin="round"/>
<text x="9" y="736" font-size="10" fill="#000" stroke="#000" stroke-width=".2" text-rendering="geometricPrecision" font-family="Liberation Sans, sans-serif" text-anchor="start" font-weight="normal" textLength="67.7" lengthAdjust="spacingAndGlyphs">RSI(14) 30.1111</text>
<text x="1648" y="734" font-size="10" fill="#000" stroke="#000" stroke-width=".2" text-rendering="geometricPrecision" font-family="Liberation Sans, sans-serif" text-anchor="start" font-weight="normal" textLength="15" lengthAdjust="spacingAndGlyphs">100</text>
<text x="1648" y="749" font-size="10" fill="#000" stroke="#000" stroke-width=".2" text-rendering="geometricPrecision" font-family="Liberation Sans, sans-serif" text-anchor="start" font-weight="normal" textLength="10" lengthAdjust="spacingAndGlyphs">80</text>
<text x="1648" y="780.3" font-size="10" fill="#000" stroke="#000" stroke-width=".2" text-rendering="geometricPrecision" font-family="Liberation Sans, sans-serif" text-anchor="start" font-weight="normal" textLength="10" lengthAdjust="spacingAndGlyphs">50</text>
<text x="1648" y="816" font-size="10" fill="#000" stroke="#000" stroke-width=".2" text-rendering="geometricPrecision" font-family="Liberation Sans, sans-serif" text-anchor="start" font-weight="normal" textLength="10" lengthAdjust="spacingAndGlyphs">15</text>
<text x="1648" y="825" font-size="10" fill="#000" stroke="#000" stroke-width=".2" text-rendering="geometricPrecision" font-family="Liberation Sans, sans-serif" text-anchor="start" font-weight="normal" textLength="5" lengthAdjust="spacingAndGlyphs">0</text>
<rect x="5" y="828" width="1" height="4" fill="#000"/>
<text x="4" y="841" font-size="10" fill="#000" stroke="#000" stroke-width=".2" text-rendering="geometricPrecision" font-family="Liberation Sans, sans-serif" text-anchor="start" font-weight="normal" textLength="45.5" lengthAdjust="spacingAndGlyphs">5 Apr 2023</text>
<rect x="69" y="828" width="1" height="4" fill="#000"/>
<text x="68" y="841" font-size="10" fill="#000" stroke="#000" stroke-width=".2" text-rendering="geometricPrecision" font-family="Liberation Sans, sans-serif" text-anchor="start" font-weight="normal" textLength="48.4" lengthAdjust="spacingAndGlyphs">6 Apr 00:00</text>
<rect x="133" y="828" width="1" height="4" fill="#000"/>
<text x="132" y="841" font-size="10" fill="#000" stroke="#000" stroke-width=".2" text-rendering="geometricPrecision" font-family="Liberation Sans, sans-serif" text-anchor="start" font-weight="normal" textLength="48.4" lengthAdjust="spacingAndGlyphs">6 Apr 16:00</text>
<rect x="197" y="828" width="1" height="4" fill="#000"/>
<text x="196" y="841" font-size="10" fill="#000" stroke="#000" stroke-width=".2" text-rendering="geometricPrecision" font-family="Liberation Sans, sans-serif" text-anchor="start" font-weight="normal" textLength="48.4" lengthAdjust="spacingAndGlyphs">7 Apr 08:00</text>
<rect x="261" y="828" width="1" height="4" fill="#000"/>
<text x="260" y="841" font-size="10" fill="#000" stroke="#000" stroke-width=".2" text-rendering="geometricPrecision" font-family="Liberation Sans, sans-serif" text-anchor="start" font-weight="normal" textLength="53.4" lengthAdjust="spacingAndGlyphs">10 Apr 00:00</text>
<rect x="325" y="828" width="1" height="4" fill="#000"/>
<text x="324" y="841" font-size="10" fill="#000" stroke="#000" stroke-width=".2" text-rendering="geometricPrecision" font-family="Liberation Sans, sans-serif" text-anchor="start" font-weight="normal" textLength="53.4" lengthAdjust="spacingAndGlyphs">10 Apr 16:00</text>
<rect x="389" y="828" width="1" height="4" fill="#000"/>
<text x="388" y="841" font-size="10" fill="#000" stroke="#000" stroke-width=".2" text-rendering="geometricPrecision" font-family="Liberation Sans, sans-serif" text-anchor="start" font-weight="normal" textLength="53.4" lengthAdjust="spacingAndGlyphs">11 Apr 08:00</text>
<rect x="453" y="828" width="1" height="4" fill="#000"/>
<text x="452" y="841" font-size="10" fill="#000" stroke="#000" stroke-width=".2" text-rendering="geometricPrecision" font-family="Liberation Sans, sans-serif" text-anchor="start" font-weight="normal" textLength="53.4" lengthAdjust="spacingAndGlyphs">12 Apr 00:00</text>
<rect x="517" y="828" width="1" height="4" fill="#000"/>
<text x="516" y="841" font-size="10" fill="#000" stroke="#000" stroke-width=".2" text-rendering="geometricPrecision" font-family="Liberation Sans, sans-serif" text-anchor="start" font-weight="normal" textLength="53.4" lengthAdjust="spacingAndGlyphs">12 Apr 16:00</text>
<rect x="581" y="828" width="1" height="4" fill="#000"/>
<text x="580" y="841" font-size="10" fill="#000" stroke="#000" stroke-width=".2" text-rendering="geometricPrecision" font-family="Liberation Sans, sans-serif" text-anchor="start" font-weight="normal" textLength="53.4" lengthAdjust="spacingAndGlyphs">13 Apr 08:00</text>
<rect x="645" y="828" width="1" height="4" fill="#000"/>
<text x="644" y="841" font-size="10" fill="#000" stroke="#000" stroke-width=".2" text-rendering="geometricPrecision" font-family="Liberation Sans, sans-serif" text-anchor="start" font-weight="normal" textLength="53.4" lengthAdjust="spacingAndGlyphs">14 Apr 00:00</text>
<rect x="709" y="828" width="1" height="4" fill="#000"/>
<text x="708" y="841" font-size="10" fill="#000" stroke="#000" stroke-width=".2" text-rendering="geometricPrecision" font-family="Liberation Sans, sans-serif" text-anchor="start" font-weight="normal" textLength="53.4" lengthAdjust="spacingAndGlyphs">14 Apr 16:00</text>
<rect x="773" y="828" width="1" height="4" fill="#000"/>
<text x="772" y="841" font-size="10" fill="#000" stroke="#000" stroke-width=".2" text-rendering="geometricPrecision" font-family="Liberation Sans, sans-serif" text-anchor="start" font-weight="normal" textLength="53.4" lengthAdjust="spacingAndGlyphs">17 Apr 08:00</text>
<rect x="837" y="828" width="1" height="4" fill="#000"/>
<text x="836" y="841" font-size="10" fill="#000" stroke="#000" stroke-width=".2" text-rendering="geometricPrecision" font-family="Liberation Sans, sans-serif" text-anchor="start" font-weight="normal" textLength="53.4" lengthAdjust="spacingAndGlyphs">18 Apr 00:00</text>
<rect x="901" y="828" width="1" height="4" fill="#000"/>
<text x="900" y="841" font-size="10" fill="#000" stroke="#000" stroke-width=".2" text-rendering="geometricPrecision" font-family="Liberation Sans, sans-serif" text-anchor="start" font-weight="normal" textLength="53.4" lengthAdjust="spacingAndGlyphs">18 Apr 16:00</text>
<rect x="965" y="828" width="1" height="4" fill="#000"/>
<text x="964" y="841" font-size="10" fill="#000" stroke="#000" stroke-width=".2" text-rendering="geometricPrecision" font-family="Liberation Sans, sans-serif" text-anchor="start" font-weight="normal" textLength="53.4" lengthAdjust="spacingAndGlyphs">19 Apr 08:00</text>
<rect x="1029" y="828" width="1" height="4" fill="#000"/>
<text x="1028" y="841" font-size="10" fill="#000" stroke="#000" stroke-width=".2" text-rendering="geometricPrecision" font-family="Liberation Sans, sans-serif" text-anchor="start" font-weight="normal" textLength="53.4" lengthAdjust="spacingAndGlyphs">20 Apr 00:00</text>
<rect x="1093" y="828" width="1" height="4" fill="#000"/>
<text x="1092" y="841" font-size="10" fill="#000" stroke="#000" stroke-width=".2" text-rendering="geometricPrecision" font-family="Liberation Sans, sans-serif" text-anchor="start" font-weight="normal" textLength="53.4" lengthAdjust="spacingAndGlyphs">20 Apr 16:00</text>
<rect x="1157" y="828" width="1" height="4" fill="#000"/>
<text x="1156" y="841" font-size="10" fill="#000" stroke="#000" stroke-width=".2" text-rendering="geometricPrecision" font-family="Liberation Sans, sans-serif" text-anchor="start" font-weight="normal" textLength="53.4" lengthAdjust="spacingAndGlyphs">21 Apr 08:00</text>
<rect x="1221" y="828" width="1" height="4" fill="#000"/>
<text x="1220" y="841" font-size="10" fill="#000" stroke="#000" stroke-width=".2" text-rendering="geometricPrecision" font-family="Liberation Sans, sans-serif" text-anchor="start" font-weight="normal" textLength="53.4" lengthAdjust="spacingAndGlyphs">24 Apr 00:00</text>
<rect x="1285" y="828" width="1" height="4" fill="#000"/>
<text x="1284" y="841" font-size="10" fill="#000" stroke="#000" stroke-width=".2" text-rendering="geometricPrecision" font-family="Liberation Sans, sans-serif" text-anchor="start" font-weight="normal" textLength="53.4" lengthAdjust="spacingAndGlyphs">24 Apr 16:00</text>
<rect x="4" y="27" width="1" height="573" fill="#000"/>
<rect x="4" y="601" width="1" height="121" fill="#000"/>
<rect x="4" y="723" width="1" height="106" fill="#000"/>
<rect x="4" y="452" width="6" height="6" fill="#ff0000"/>
<rect x="6" y="454" width="2" height="2" fill="#fff"/>
<rect x="4" y="491" width="6" height="6" fill="#ff0000"/>
<rect x="6" y="493" width="2" height="2" fill="#fff"/>
<rect x="4" y="524" width="6" height="6" fill="#ffa500"/>
<rect x="6" y="526" width="2" height="2" fill="#fff"/>
<rect x="4" y="565" width="6" height="6" fill="#0000ff"/>
<rect x="6" y="567" width="2" height="2" fill="#fff"/>
<rect x="4" y="595" width="6" height="6" fill="#0000ff"/>
<rect x="6" y="597" width="2" height="2" fill="#fff"/>
<rect x="1310" y="28" width="9" height="1" fill="#000"/>
<rect x="1311" y="29" width="7" height="1" fill="#000"/>
<rect x="1312" y="30" width="5" height="1" fill="#000"/>
<rect x="1313" y="31" width="3" height="1" fill="#000"/>
<rect x="1314" y="32" width="1" height="1" fill="#000"/></svg>
<svg width="1692" height="23" viewBox="0 0 1692 23" style="position:absolute;left:0;top:0"><rect x="5" y="0" width="1" height="21" fill="#a0a0a0" shape-rendering="crispEdges"/>
<rect x="6" y="0" width="1" height="21" fill="#fff" shape-rendering="crispEdges"/>
<path d="M16.5 3.5h7.5l3 3v10h-10.5z" fill="#fdfdfd" stroke="#707070" stroke-width="1"/>
<path d="M24 3.5v3h3" fill="#e8e8e8" stroke="#8a8a8a" stroke-width=".8"/>
<path d="M18 6.5h3M18 9.5h6M18 12h4M18 14.500h3" stroke="#9a9a9a" stroke-width="1"/>
<defs><linearGradient id="gp" x1="0" y1="0" x2="1" y2="1"><stop offset="0" stop-color="#7dff7d"/><stop offset=".5" stop-color="#18e038"/><stop offset="1" stop-color="#00a010"/></linearGradient></defs>
<path d="M23.2 9.4h4v3.9h3.9v4h-3.9v3.7h-4v-3.7h-3.900v-4h3.900z" fill="url(#gp)" stroke="#0a8a1a" stroke-width=".8"/>
<text x="33.8" y="14.3" font-size="12" fill="#000" text-rendering="geometricPrecision" style="font-family:'Liberation Sans','Noto Sans CJK SC',sans-serif">新订单</text>
<defs><linearGradient id="gb" x1="0" y1="0" x2="1" y2="1"><stop offset="0" stop-color="#fff078"/><stop offset=".45" stop-color="#f2c020"/><stop offset="1" stop-color="#c88a00"/></linearGradient></defs>
<path d="M87.600 4.300L98.200 11.600L97.600 13.600L90 18.900L82 13.300L82.300 11.800Z" fill="#b87c08"/>
<path d="M87.600 4.300L98.200 11.600L90.200 16.800L82.300 11.800C84.500 10.500 86.200 7.500 87.600 4.300Z" fill="url(#gb)" stroke="#b07808" stroke-width=".7"/>
<path d="M82.600 12.800L90.100 17.800L97.800 12.700" stroke="#f8e8a0" stroke-width=".7" fill="none"/>
<path d="M112.300 4.200L115.500 3.200h6l1.700 1.500v8.500h-10.400z" fill="#1488ee" stroke="#0a70d8" stroke-width=".6"/>
<path d="M112.300 4.200l3.400 1.500v8h-3.400z" fill="#0a7ae0"/><path d="M115.700 5.700l7.300-.9" stroke="#bfe4ff" stroke-width=".7"/><path d="M115.700 5.700v7" stroke="#9fd4ff" stroke-width=".7"/>
<path d="M116.500 7h6v6.500h-6z" fill="#48b4ff"/><path d="M117.500 8.300l4-.6" stroke="#f0f8ff" stroke-width="1.100"/>
<path d="M113 18.700c-3.200 0-3.600-4.200-.5-4.500c.2-2.500 3.300-3.200 4.600-1.400c1.300-2.500 5.200-2 5.400.9c3-.6 4.500 2.400 2.800 4.100c-.7.700-1.300.9-2.400.9z" fill="#e2e9f6" stroke="#4464a8" stroke-width=".9"/>
<path d="M112.200 17.600h12" stroke="#c0cce4" stroke-width="1"/>
<circle cx="146" cy="10.6" r="4.3" fill="none" stroke="#5a80dc" stroke-width="1.400" opacity="0.95"/>
<path d="M148.76 7.31A4.3 4.3 0 0 1 146.30 14.90" fill="none" stroke="#58b050" stroke-width="1.500" opacity="0.95"/>
<circle cx="146" cy="10.6" r="7.3" fill="none" stroke="#5a80dc" stroke-width="1.400" opacity="0.7"/>
<path d="M150.69 5.01A7.3 7.3 0 0 1 146.30 17.90" fill="none" stroke="#58b050" stroke-width="1.500" opacity="0.7"/>
<path d="M146.400 10.600v7.600a7.600 7.600 0 0 0 7-7.600a7.600 7.600 0 0 0-2.200-5.200z" fill="#7cc47c" opacity=".35"/>
<circle cx="146" cy="10.400" r="1.700" fill="#2454d4"/><path d="M146.700 11v7.700" stroke="#22a022" stroke-width="1.400"/>
<path d="M166 10l15 0l-4 6l-5 3z" fill="#f2d648" stroke="#d8a820" stroke-width=".8"/>
<ellipse cx="173" cy="8" rx="8" ry="3" fill="#58a8dc" stroke="#3a88c0" stroke-width=".6"/><ellipse cx="173" cy="5.800" rx="4" ry="2.800" fill="#78c0ec"/>
<circle cx="177.6" cy="14.7" r="4.300" fill="#e02810"/><rect x="176" y="13.1" width="3.200" height="3.200" fill="#fff"/>
<text x="185.5" y="14.3" font-size="12" fill="#000" text-rendering="geometricPrecision" style="font-family:'Liberation Sans','Noto Sans CJK SC',sans-serif">自动交易</text>
<rect x="241" y="0" width="1" height="22" fill="#a0a0a0" shape-rendering="crispEdges"/>
<rect x="242" y="0" width="1" height="22" fill="#fff" shape-rendering="crispEdges"/>
<rect x="245" y="2" width="3" height="1" fill="#a8a8a8" shape-rendering="crispEdges"/>
<rect x="245" y="4" width="3" height="1" fill="#a8a8a8" shape-rendering="crispEdges"/>
<rect x="245" y="6" width="3" height="1" fill="#a8a8a8" shape-rendering="crispEdges"/>
<rect x="245" y="8" width="3" height="1" fill="#a8a8a8" shape-rendering="crispEdges"/>
<rect x="245" y="10" width="3" height="1" fill="#a8a8a8" shape-rendering="crispEdges"/>
<rect x="245" y="12" width="3" height="1" fill="#a8a8a8" shape-rendering="crispEdges"/>
<rect x="245" y="14" width="3" height="1" fill="#a8a8a8" shape-rendering="crispEdges"/>
<rect x="245" y="16" width="3" height="1" fill="#a8a8a8" shape-rendering="crispEdges"/>
<rect x="245" y="18" width="3" height="1" fill="#a8a8a8" shape-rendering="crispEdges"/>
<rect x="245" y="20" width="3" height="1" fill="#a8a8a8" shape-rendering="crispEdges"/>
<path d="M259.5 6V19 M256.5 16.5H269.5" stroke="#5c5c5c" stroke-width="1" fill="none" shape-rendering="crispEdges"/>
<path d="M257.7 7.6L259.5 4.6L261.3 7.6Z M268.4 14.7L271.2 16.5L268.4 18.3Z" fill="#5c5c5c"/>
<path d="M265.5 6v9 M265.500 7.500h2.500 M263 13.500h2.500" stroke="#008a00" stroke-width="1.400" fill="none"/>
<rect x="279" y="0" width="1" height="21" fill="#a4a4a4" shape-rendering="crispEdges"/>
<rect x="280" y="0" width="1" height="21" fill="#fff" shape-rendering="crispEdges"/>
<rect x="280" y="0" width="24" height="21" fill="#f8f8f8" shape-rendering="crispEdges"/>
<path d="M287.5 6V19 M284.5 16.5H297.5" stroke="#5c5c5c" stroke-width="1" fill="none" shape-rendering="crispEdges"/>
<path d="M285.7 7.6L287.5 4.6L289.3 7.6Z M296.4 14.7L299.2 16.5L296.4 18.3Z" fill="#5c5c5c"/>
<path d="M293.5 3.200v11.600" stroke="#00a000" stroke-width="1.200"/><rect x="291.4" y="5.200" width="4.400" height="7.600" fill="#50f060" stroke="#00a000" stroke-width="1"/>
<path d="M315.5 6V19 M312.5 16.5H325.5" stroke="#5c5c5c" stroke-width="1" fill="none" shape-rendering="crispEdges"/>
<path d="M313.7 7.6L315.5 4.6L317.3 7.6Z M324.4 14.7L327.2 16.5L324.4 18.3Z" fill="#5c5c5c"/>
<path d="M314.200 13.800C317 12 318.500 8.200 320.200 8.200S323.500 11.500 325.800 12.200" stroke="#20a030" stroke-width="1.300" fill="none"/>
<rect x="336" y="1" width="1" height="20" fill="#a0a0a0" shape-rendering="crispEdges"/>
<rect x="337" y="1" width="1" height="20" fill="#fff" shape-rendering="crispEdges"/>
<path d="M355.2 13.200L359.9 17.600" stroke="#a87808" stroke-width="3.600" stroke-linecap="butt"/><path d="M355.2 13.200L359.7 17.400" stroke="#e8cc28" stroke-width="2.200"/>
<circle cx="351.2" cy="8.800" r="5.600" fill="#d4f0fc" stroke="#3880c8" stroke-width="1.300"/>
<path d="M347.7 8.800h7M351.2 5.300v7" stroke="#4890b8" stroke-width="1.900"/>
<path d="M383.1 13.200L387.8 17.600" stroke="#a87808" stroke-width="3.600" stroke-linecap="butt"/><path d="M383.1 13.200L387.6 17.400" stroke="#e8cc28" stroke-width="2.200"/>
<circle cx="379.1" cy="8.800" r="5.600" fill="#d4f0fc" stroke="#3880c8" stroke-width="1.300"/>
<path d="M375.6 8.800h7" stroke="#4890b8" stroke-width="1.900"/>
<rect x="401" y="3" width="8" height="8" fill="#38a028"/>
<path d="M402.5 6h5v3.500h-1v-1h-3v1h-1z" fill="#fff"/><rect x="402" y="4" width="1" height="1" fill="#fff" opacity=".8"/>
<rect x="409" y="3" width="8" height="8" fill="#2858d8"/>
<path d="M410.5 6h5v3.500h-1v-1h-3v1h-1z" fill="#fff"/><rect x="410" y="4" width="1" height="1" fill="#fff" opacity=".8"/>
<rect x="401" y="11" width="8" height="8" fill="#2858d8"/>
<path d="M402.5 14h5v3.500h-1v-1h-3v1h-1z" fill="#fff"/><rect x="402" y="12" width="1" height="1" fill="#fff" opacity=".8"/>
<rect x="409" y="11" width="8" height="8" fill="#38a028"/>
<path d="M410.5 14h5v3.500h-1v-1h-3v1h-1z" fill="#fff"/><rect x="410" y="12" width="1" height="1" fill="#fff" opacity=".8"/>
<rect x="426" y="1" width="1" height="20" fill="#a0a0a0" shape-rendering="crispEdges"/>
<rect x="427" y="1" width="1" height="20" fill="#fff" shape-rendering="crispEdges"/>
<rect x="431" y="0" width="1" height="21" fill="#a4a4a4" shape-rendering="crispEdges"/>
<rect x="432" y="0" width="1" height="21" fill="#fff" shape-rendering="crispEdges"/>
<rect x="432" y="0" width="24" height="21" fill="#f8f8f8" shape-rendering="crispEdges"/>
<path d="M439.5 6V19 M436.5 16.5H449.5" stroke="#5c5c5c" stroke-width="1" fill="none" shape-rendering="crispEdges"/>
<path d="M437.7 7.6L439.5 4.6L441.3 7.6Z M448.4 14.7L451.2 16.5L448.4 18.3Z" fill="#5c5c5c"/>
<path d="M444.300 7.300L448 10.500L444.300 13.700Z" fill="#60e060" stroke="#10a010" stroke-width="1"/>
<rect x="459" y="0" width="1" height="21" fill="#a4a4a4" shape-rendering="crispEdges"/>
<rect x="460" y="0" width="1" height="21" fill="#fff" shape-rendering="crispEdges"/>
<rect x="460" y="0" width="24" height="21" fill="#f8f8f8" shape-rendering="crispEdges"/>
<path d="M467.5 6V19 M464.5 16.5H477.5" stroke="#5c5c5c" stroke-width="1" fill="none" shape-rendering="crispEdges"/>
<path d="M465.7 7.6L467.5 4.6L469.3 7.6Z M476.4 14.7L479.2 16.5L476.4 18.3Z" fill="#5c5c5c"/>
<path d="M473.500 5v10" stroke="#1070a8" stroke-width="1.300"/><path d="M474.500 10.500h4.500" stroke="#d84010" stroke-width="1.200"/><path d="M474.300 10.500l2.800-2v4z" fill="#d84010"/>
<rect x="488" y="1" width="1" height="20" fill="#a0a0a0" shape-rendering="crispEdges"/>
<rect x="489" y="1" width="1" height="20" fill="#fff" shape-rendering="crispEdges"/>
<path d="M498.800 3.800h7.200l3.500 3v9.700h-10.700z" fill="#fdfdfd" stroke="#707070" stroke-width="1"/>
<path d="M503.500 6.500c-2 0-1.500 2-1.500 3s-1 .5-1 .5s1 0 1 .8s-.5 3 1.500 3" fill="none" stroke="#555" stroke-width=".9"/>
<path d="M506.200 9.300h4v3.900h3.800v4h-3.800v3.600h-4v-3.600h-3.900v-4h3.900z" fill="url(#gp)" stroke="#0a8a1a" stroke-width=".8"/>
<polygon points="520,10 525,10 522.5,13" fill="#000"/>
<defs><linearGradient id="gc" x1="0" y1="0" x2="1" y2="1"><stop offset="0" stop-color="#4a9af0"/><stop offset="1" stop-color="#0a3cb0"/></linearGradient></defs>
<circle cx="544.100" cy="10.900" r="6.800" fill="#eef2f8" stroke="url(#gc)" stroke-width="2.600"/>
<path d="M543.800 6.800v4.300h3" stroke="#222" stroke-width="1" fill="none"/><path d="M542.500 14.200h3" stroke="#60a0f0" stroke-width=".8"/>
<polygon points="559,10 564,10 561.5,13" fill="#000"/>
<rect x="575.500" y="4.300" width="15.200" height="13.400" fill="#fff" stroke="#3878c8" stroke-width="1"/><rect x="576" y="4.800" width="14.200" height="2" fill="#4890e0"/><path d="M576 12.300h14.200" stroke="#3878c8" stroke-width="1"/>
<path d="M578 10.300l2.500 0l1.500-1.500l2 .8l2-1l2.500-.6" stroke="#a82410" stroke-width="1.300" fill="none"/><path d="M578.500 15.700l2.500-.6l2 .8l3-2.600l2.500 2.400" stroke="#109828" stroke-width="1.300" fill="none"/>
<polygon points="598,10 603,10 600.5,13" fill="#000"/>
<rect x="609" y="0" width="1" height="22" fill="#a0a0a0" shape-rendering="crispEdges"/>
<rect x="610" y="0" width="1" height="22" fill="#fff" shape-rendering="crispEdges"/>
<rect x="613" y="2" width="3" height="1" fill="#a8a8a8" shape-rendering="crispEdges"/>
<rect x="613" y="4" width="3" height="1" fill="#a8a8a8" shape-rendering="crispEdges"/>
<rect x="613" y="6" width="3" height="1" fill="#a8a8a8" shape-rendering="crispEdges"/>
<rect x="613" y="8" width="3" height="1" fill="#a8a8a8" shape-rendering="crispEdges"/>
<rect x="613" y="10" width="3" height="1" fill="#a8a8a8" shape-rendering="crispEdges"/>
<rect x="613" y="12" width="3" height="1" fill="#a8a8a8" shape-rendering="crispEdges"/>
<rect x="613" y="14" width="3" height="1" fill="#a8a8a8" shape-rendering="crispEdges"/>
<rect x="613" y="16" width="3" height="1" fill="#a8a8a8" shape-rendering="crispEdges"/>
<rect x="613" y="18" width="3" height="1" fill="#a8a8a8" shape-rendering="crispEdges"/>
<rect x="613" y="20" width="3" height="1" fill="#a8a8a8" shape-rendering="crispEdges"/>
<rect x="619" y="0" width="1" height="21" fill="#a4a4a4" shape-rendering="crispEdges"/>
<rect x="620" y="0" width="1" height="21" fill="#fff" shape-rendering="crispEdges"/>
<rect x="620" y="0" width="24" height="21" fill="#f8f8f8" shape-rendering="crispEdges"/>
<path d="M627 3.900V15l2.600-2.300l2.800 5.300l1.700-.9l-2.700-5.100l3.700-.6z" fill="#4a4a4a"/>
<path d="M652 11.500h6.300M661 11.500h6.200M659.500 4v6M659.500 13v6.200" stroke="#4a4a4a" stroke-width="1.100"/><rect x="659" y="11" width="1" height="1" fill="#4a4a4a"/>
<rect x="676" y="1" width="1" height="20" fill="#a0a0a0" shape-rendering="crispEdges"/>
<rect x="677" y="1" width="1" height="20" fill="#fff" shape-rendering="crispEdges"/>
<path d="M693.500 4.800v13" stroke="#4a4a4a" stroke-width="1.300"/>
<path d="M716 11.500h12" stroke="#4a4a4a" stroke-width="1.300"/>
<path d="M743.800 17.700L756.200 5.700" stroke="#4a4a4a" stroke-width="1.300"/>
<path d="M770 12.800L777.800 5.300M775 17.400L783.500 9.200M771 14.500l3 .5M772.500 10.500v6M775 8.500v6.500M777.500 6v6.500M780.500 4v8 M773 12l3-1.500l3-.5l3-2.500" stroke="#4a4a4a" stroke-width="1" fill="none"/>
<text text-rendering="geometricPrecision" x="780.500" y="19.900" font-size="6.800" font-weight="bold" fill="#4a4a4a">E</text>
<path d="M799 4.5H812.5" stroke="#4a4a4a" stroke-width="1" stroke-dasharray="1,1" shape-rendering="crispEdges"/>
<path d="M799 7.5H812.5" stroke="#4a4a4a" stroke-width="1" stroke-dasharray="1,1" shape-rendering="crispEdges"/>
<path d="M799 11.5H812.5" stroke="#4a4a4a" stroke-width="1" stroke-dasharray="1,1" shape-rendering="crispEdges"/>
<path d="M799 15.5H808" stroke="#4a4a4a" stroke-width="1" stroke-dasharray="1,1" shape-rendering="crispEdges"/>
<text text-rendering="geometricPrecision" x="809" y="19.900" font-size="6.800" font-weight="bold" fill="#4a4a4a">F</text>
<text text-rendering="geometricPrecision" x="829.600" y="16" font-size="12.300" stroke="#4a4a4a" stroke-width=".12" fill="#4a4a4a" textLength="7.800" lengthAdjust="spacingAndGlyphs">A</text>
<rect x="856.500" y="5.500" width="11" height="12" fill="none" stroke="#4a4a4a" stroke-width="1" stroke-dasharray="1,1" shape-rendering="crispEdges"/>
<text text-rendering="geometricPrecision" x="858" y="15.600" font-size="10.600" stroke="#4a4a4a" stroke-width=".3" fill="#4a4a4a" textLength="7.400" lengthAdjust="spacingAndGlyphs">T</text>
<path d="M882.900 8.700L886.400 5.100L890 8.700L886.400 10.300Z M890 14.800L893.500 13.200L897 14.800L893.500 17.900Z" fill="#4a4a4a"/><path d="M885.200 12.600L887.500 14.600L891.600 9.500" stroke="#4a4a4a" stroke-width="1.300" fill="none"/>
<polygon points="904,10 909,10 906.5,13" fill="#000"/>
<rect x="915" y="0" width="1" height="22" fill="#a0a0a0" shape-rendering="crispEdges"/>
<rect x="916" y="0" width="1" height="22" fill="#fff" shape-rendering="crispEdges"/>
<rect x="919" y="2" width="3" height="1" fill="#a8a8a8" shape-rendering="crispEdges"/>
<rect x="919" y="4" width="3" height="1" fill="#a8a8a8" shape-rendering="crispEdges"/>
<rect x="919" y="6" width="3" height="1" fill="#a8a8a8" shape-rendering="crispEdges"/>
<rect x="919" y="8" width="3" height="1" fill="#a8a8a8" shape-rendering="crispEdges"/>
<rect x="919" y="10" width="3" height="1" fill="#a8a8a8" shape-rendering="crispEdges"/>
<rect x="919" y="12" width="3" height="1" fill="#a8a8a8" shape-rendering="crispEdges"/>
<rect x="919" y="14" width="3" height="1" fill="#a8a8a8" shape-rendering="crispEdges"/>
<rect x="919" y="16" width="3" height="1" fill="#a8a8a8" shape-rendering="crispEdges"/>
<rect x="919" y="18" width="3" height="1" fill="#a8a8a8" shape-rendering="crispEdges"/>
<rect x="919" y="20" width="3" height="1" fill="#a8a8a8" shape-rendering="crispEdges"/>
<rect x="1065" y="0" width="1" height="21" fill="#a4a4a4" shape-rendering="crispEdges"/>
<rect x="1066" y="0" width="1" height="21" fill="#fff" shape-rendering="crispEdges"/>
<rect x="1066" y="0" width="24" height="21" fill="#f8f8f8" shape-rendering="crispEdges"/>
<text text-rendering="geometricPrecision" x="930.8" y="15" font-size="9.800" fill="#3c3c3c" textLength="12.2" lengthAdjust="spacingAndGlyphs">M1</text>
<text text-rendering="geometricPrecision" x="958.6" y="15" font-size="9.800" fill="#3c3c3c" textLength="12.6" lengthAdjust="spacingAndGlyphs">M5</text>
<text text-rendering="geometricPrecision" x="984.5" y="15" font-size="9.800" fill="#3c3c3c" textLength="17.6" lengthAdjust="spacingAndGlyphs">M15</text>
<text text-rendering="geometricPrecision" x="1012.3" y="15" font-size="9.800" fill="#3c3c3c" textLength="17.8" lengthAdjust="spacingAndGlyphs">M30</text>
<text text-rendering="geometricPrecision" x="1043.7" y="15" font-size="9.800" fill="#3c3c3c" textLength="11.5" lengthAdjust="spacingAndGlyphs">H1</text>
<text text-rendering="geometricPrecision" x="1070.3" y="15" font-size="9.800" fill="#3c3c3c" textLength="12.6" lengthAdjust="spacingAndGlyphs">H4</text>
<text text-rendering="geometricPrecision" x="1099.6" y="15" font-size="9.800" fill="#3c3c3c" textLength="11.8" lengthAdjust="spacingAndGlyphs">D1</text>
<text text-rendering="geometricPrecision" x="1127" y="15" font-size="9.800" fill="#3c3c3c" textLength="14.2" lengthAdjust="spacingAndGlyphs">W1</text>
<text text-rendering="geometricPrecision" x="1153.8" y="15" font-size="9.800" fill="#3c3c3c" textLength="14.4" lengthAdjust="spacingAndGlyphs">MN</text>
<rect x="1176" y="1" width="1" height="20" fill="#a0a0a0" shape-rendering="crispEdges"/>
<rect x="1177" y="1" width="1" height="20" fill="#fff" shape-rendering="crispEdges"/>
<path d="M1643.500 11.200L1638.800 15.700" stroke="#2255cc" stroke-width="2.200" stroke-linecap="round"/><circle cx="1646.600" cy="8.200" r="4" fill="#f4f6fc" stroke="#2a5ad0" stroke-width="1.300"/>
<ellipse cx="1668.500" cy="13.200" rx="5.500" ry="4.300" fill="#dcdce0" stroke="#b8b8bc" stroke-width=".8"/><path d="M1665.500 16.500l.8 3l2.500-2.500z" fill="#d0d0d4" stroke="#b0b0b4" stroke-width=".5"/>
<defs><linearGradient id="gr" x1="0" y1="0" x2="0" y2="1"><stop offset="0" stop-color="#ea5030"/><stop offset="1" stop-color="#d41c08"/></linearGradient></defs>
<circle cx="1677.400" cy="8.500" r="8.200" fill="url(#gr)"/>
<text text-rendering="geometricPrecision" x="1677.600" y="12.800" font-size="12.500" fill="#fff" text-anchor="middle">1</text></svg>
</body></html>
